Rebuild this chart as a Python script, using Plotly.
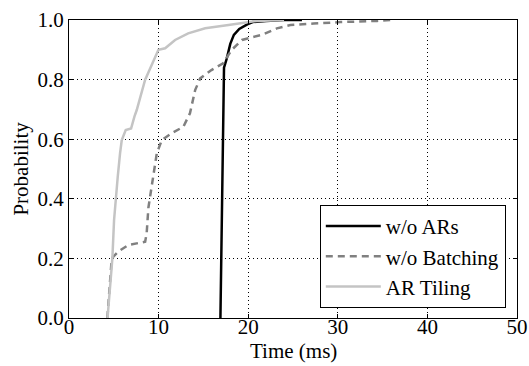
import plotly.graph_objects as go

# w/o ARs
t_noar = [16.9, 17.0, 17.1, 17.2, 17.3, 17.6, 18.0, 18.4, 19.0, 19.9, 20.5, 22.0, 24.0, 26.0]
p_noar = [0.0, 0.2, 0.5, 0.75, 0.84, 0.87, 0.92, 0.95, 0.97, 0.985, 0.993, 0.997, 1.0, 1.0]

# w/o Batching
t_nobatch = [4.28, 4.5, 4.77, 5.5, 6.63, 8.5, 8.67, 8.86, 9.42, 9.8, 10.36, 11.47, 12.77,
             13.33, 13.5, 14.08, 14.64, 15.9, 17.2, 18.17, 19.3, 20.4, 21.5, 23.2, 24.7,
             27.3, 30.3, 34.4, 36.0]
p_nobatch = [0.0, 0.1, 0.2, 0.223, 0.245, 0.256, 0.285, 0.37, 0.474, 0.553, 0.597, 0.62, 0.642,
             0.676, 0.687, 0.765, 0.804, 0.832, 0.855, 0.9, 0.933, 0.942, 0.95, 0.972, 0.983,
             0.988, 0.993, 0.997, 1.0]

# AR Tiling
t_tiling = [4.3, 4.6, 4.84, 5.03, 5.2, 5.44, 5.7, 5.89, 6.33, 6.93, 7.3, 7.56, 8.49, 9.42,
            9.98, 10.73, 11.84, 13.3, 15.2, 17.8, 19.1, 21.0, 24.0]
p_tiling = [0.0, 0.1, 0.2, 0.329, 0.396, 0.474, 0.553, 0.597, 0.631, 0.636, 0.676, 0.698, 0.799,
            0.866, 0.9, 0.905, 0.933, 0.955, 0.972, 0.983, 0.989, 0.997, 1.0]

x_ticks = [0, 10, 20, 30, 40, 50]
y_ticks = [0.0, 0.2, 0.4, 0.6, 0.8, 1.0]
y_ticklabels = ["0.0", "0.2", "0.4", "0.6", "0.8", "1.0"]
x_title = "Time (ms)"
y_title = "Probability"

FONT = "Liberation Serif"
FS = 21

fig = go.Figure()
fig.add_trace(go.Scatter(x=t_noar, y=p_noar, mode="lines", name="w/o ARs",
                         line=dict(color="black", width=2.5)))
fig.add_trace(go.Scatter(x=t_nobatch, y=p_nobatch, mode="lines", name="w/o Batching",
                         line=dict(color="#808080", width=2.5, dash="7px,5px")))
fig.add_trace(go.Scatter(x=t_tiling, y=p_tiling, mode="lines", name="AR Tiling",
                         line=dict(color="#c4c4c4", width=2.5)))

axis_common = dict(
    showline=True, linecolor="black", linewidth=1, mirror="allticks",
    ticks="inside", ticklen=4, tickwidth=1, tickcolor="black",
    showgrid=True, gridcolor="black", gridwidth=1, griddash="1px,3px",
    zeroline=False, tickfont=dict(family=FONT, size=FS, color="black"),
    automargin=False,
)

fig.update_xaxes(range=[0, 50], tickvals=x_ticks, ticktext=[str(v) for v in x_ticks],
                 ticklabelstandoff=-10, **axis_common)
fig.update_yaxes(range=[0, 1], tickvals=y_ticks, ticktext=y_ticklabels,
                 **axis_common)

fig.add_annotation(text=x_title, xref="paper", yref="paper", x=0.5, y=-0.112,
                   xanchor="center", yanchor="middle", showarrow=False,
                   font=dict(family=FONT, size=FS, color="black"))
fig.add_annotation(text=y_title, xref="paper", yref="paper", x=-0.108, y=0.5,
                   xanchor="center", yanchor="middle", textangle=-90, showarrow=False,
                   font=dict(family=FONT, size=FS, color="black"))

fig.update_layout(
    width=529, height=366,
    margin=dict(l=69, r=12, t=20, b=48),
    plot_bgcolor="white", paper_bgcolor="white",
    font=dict(family=FONT, size=FS, color="black"),
    legend=dict(x=0.975, xanchor="right", y=0.034, yanchor="bottom",
                bordercolor="black", borderwidth=1, bgcolor="white",
                font=dict(family=FONT, size=FS, color="black"),
                itemwidth=55, tracegroupgap=0),
    showlegend=True,
)

fig.write_html("out.html")
